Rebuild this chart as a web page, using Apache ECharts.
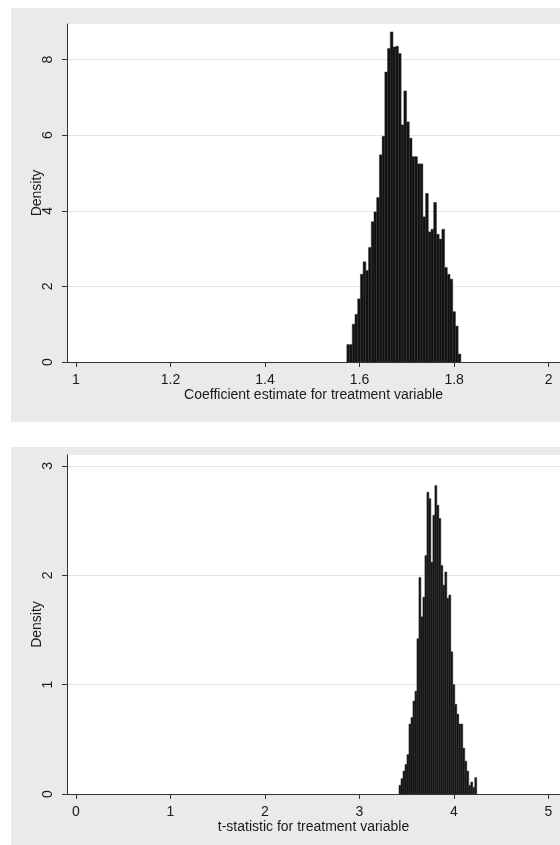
<!DOCTYPE html>
<html>
<head>
<meta charset="utf-8">
<script src="https://cdn.jsdelivr.net/npm/echarts@6/dist/echarts.min.js"></script>
<style>
  html, body { margin: 0; padding: 0; background: #fff; }
  #chart { width: 560px; height: 845px; }
</style>
</head>
<body>
<div id="chart"></div>
<script>
// top panel: coefficient estimate histogram
const coefBinStart = 1.573
const coefBinWidth = 0.005745
const coefDensity = [
  0.46, 0.46, 1.0, 1.26, 1.67, 2.32, 2.65, 2.42, 3.03, 3.71,
  3.97, 4.35, 5.48, 5.97, 7.67, 8.29, 8.73, 8.33, 8.35, 8.16,
  6.27, 7.17, 6.35, 5.92, 5.43, 5.43, 5.24, 5.24, 3.84, 4.46,
  3.44, 3.51, 4.22, 3.38, 3.25, 3.51, 2.5, 2.32, 2.19, 1.33,
  0.95, 0.21
]
const coefTicks = [1, 1.2, 1.4, 1.6, 1.8, 2]
const coefDensityTicks = [0, 2, 4, 6, 8]

// bottom panel: t-statistic histogram
const tBinStart = 3.418
const tBinWidth = 0.0211
const tDensity = [
  0.08, 0.14, 0.21, 0.27, 0.36, 0.64, 0.70, 0.85, 0.94, 1.42,
  1.98, 1.62, 1.80, 2.18, 2.76, 2.70, 2.12, 2.55, 2.82, 2.64,
  2.52, 2.09, 1.91, 2.03, 1.79, 1.82, 1.30, 1.00, 0.82, 0.73,
  0.64, 0.64, 0.42, 0.30, 0.21, 0.08, 0.11, 0.06, 0.15
]
const tTicks = [0, 1, 2, 3, 4, 5]
const tDensityTicks = [0, 1, 2, 3]

const FONT = '"Liberation Sans", Arial, sans-serif'
const TEXT = '#1a1a1a'
const AXIS = '#333'

// [lower edge, upper edge, density]
function toBins (start, width, values) {
  return values.map((v, i) => [start + i * width, start + (i + 1) * width, v])
}

function renderBar (params, api) {
  const p0 = api.coord([api.value(0), 0])
  const p1 = api.coord([api.value(1), api.value(2)])
  return {
    type: 'rect',
    shape: { x: p0[0], y: p1[1], width: p1[0] - p0[0], height: p0[1] - p1[1] },
    style: { fill: '#101010', stroke: '#303030', lineWidth: 0.5 }
  }
}

function xAxisOf (gridIndex, min, max, ticks, name) {
  return {
    type: 'value',
    gridIndex: gridIndex,
    min: min,
    max: max,
    name: name,
    nameLocation: 'middle',
    nameGap: 26,
    nameMoveOverlap: false,
    nameTextStyle: { fontFamily: FONT, fontSize: 14, color: TEXT },
    axisLine: { show: true, onZero: false, lineStyle: { color: AXIS, width: 1 } },
    axisTick: { show: true, length: 5, customValues: ticks, lineStyle: { color: AXIS } },
    axisLabel: { customValues: ticks, margin: 11, fontFamily: FONT, fontSize: 14, color: TEXT },
    splitLine: { show: false }
  }
}

function yAxisOf (gridIndex, max, ticks) {
  return {
    type: 'value',
    gridIndex: gridIndex,
    min: 0,
    max: max,
    name: 'Density',
    nameLocation: 'middle',
    nameRotate: 90,
    nameGap: 23,
    nameMoveOverlap: false,
    nameTextStyle: { fontFamily: FONT, fontSize: 14, color: TEXT },
    axisLine: { show: true, onZero: false, lineStyle: { color: AXIS, width: 1 } },
    axisTick: { show: true, length: 5, customValues: ticks, lineStyle: { color: AXIS } },
    axisLabel: { customValues: ticks, rotate: 90, margin: 12, fontFamily: FONT, fontSize: 14, color: TEXT },
    splitLine: { show: true, lineStyle: { color: '#e4e4e4', width: 1 } }
  }
}

const chartInstance = echarts.init(document.getElementById('chart'), null, { renderer: 'canvas' })

const option = {
  animation: false,
  backgroundColor: '#fff',
  graphic: [
    // grey panel backgrounds
    { type: 'rect', z: -100, silent: true, shape: { x: 11, y: 8, width: 549, height: 414 }, style: { fill: '#eaeaea' } },
    { type: 'rect', z: -100, silent: true, shape: { x: 11, y: 447, width: 549, height: 398 }, style: { fill: '#eaeaea' } }
  ],
  grid: [
    { left: 67, top: 24, right: 0, height: 338, show: true, backgroundColor: '#fff', borderWidth: 0 },
    { left: 67, top: 455, right: 0, height: 339, show: true, backgroundColor: '#fff', borderWidth: 0 }
  ],
  xAxis: [
    xAxisOf(0, 0.981, 2.024, coefTicks, 'Coefficient estimate for treatment variable'),
    xAxisOf(1, -0.095, 5.122, tTicks, 't-statistic for treatment variable')
  ],
  yAxis: [
    yAxisOf(0, 8.94, coefDensityTicks),
    yAxisOf(1, 3.1, tDensityTicks)
  ],
  series: [
    {
      type: 'custom',
      xAxisIndex: 0,
      yAxisIndex: 0,
      renderItem: renderBar,
      encode: { x: [0, 1], y: 2 },
      data: toBins(coefBinStart, coefBinWidth, coefDensity)
    },
    {
      type: 'custom',
      xAxisIndex: 1,
      yAxisIndex: 1,
      renderItem: renderBar,
      encode: { x: [0, 1], y: 2 },
      data: toBins(tBinStart, tBinWidth, tDensity)
    }
  ]
}

chartInstance.setOption(option)
</script>
</body>
</html>
